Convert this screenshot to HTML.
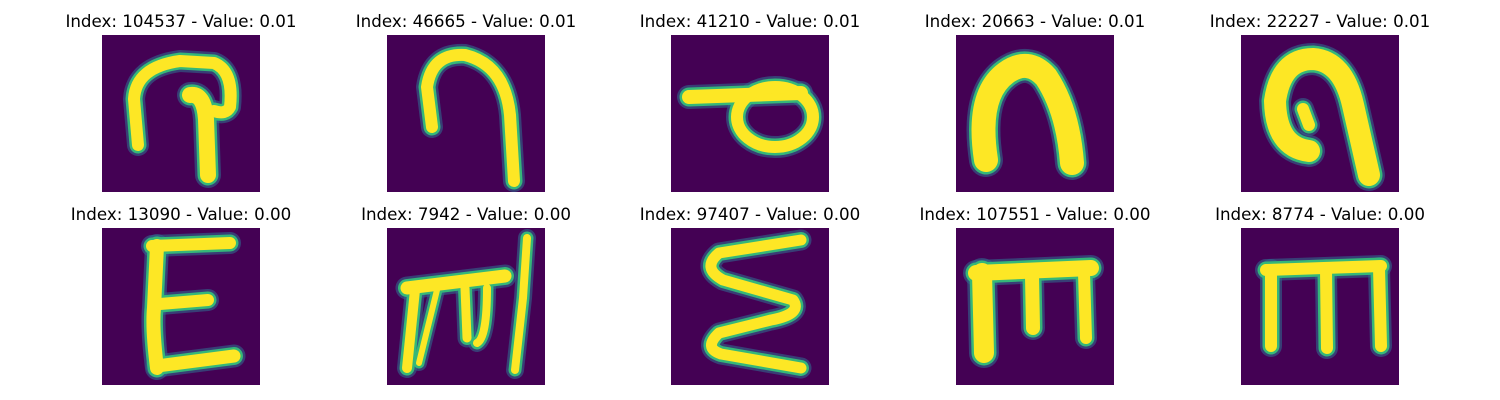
<!DOCTYPE html>
<html><head><meta charset="utf-8"><style>
body{margin:0;background:#fff;width:1500px;height:400px;overflow:hidden;position:relative;font-family:"DejaVu Sans","Liberation Sans",sans-serif;}
.t{position:absolute;font-size:16.7px;color:#000;text-align:center;width:300px;white-space:nowrap;}
svg.p{position:absolute;width:158px;height:157px;}
</style></head><body>
<script>
const indices=[104537,46665,41210,20663,22227,13090,7942,97407,107551,8774];
const values=["0.01","0.01","0.01","0.01","0.01","0.00","0.00","0.00","0.00","0.00"];
const colX=[102,387,671,956,1241];
const rowY=[35,228];
const strokes=[
 [["M36,110 L32,64 Q34,32 78,26 L112,28 Q132,36 128,72 Q124,80 112,76",12],["M88,60 Q102,58 104,84 L106,140",16]],
 [["M45,92 L40,52 Q45,18 78,20 Q118,30 123,80 L127,146",12]],
 [["M18,62 L130,58",14],["M104,82 m-38,0 a38,30 0 1,0 76,0 a38,30 0 1,0 -76,0",12]],
 [["M30,125 Q20,60 50,38 Q72,22 90,42 Q112,75 116,128",24]],
 [["M68,116 Q35,112 34,66 Q40,24 72,24 Q102,26 112,70 L128,140",22],["M68,90 L62,74",12]],
 [["M50,18 L128,15",12],["M55,18 L52,80 Q50,100 55,140",14],["M58,76 L106,72",12],["M55,138 L132,128",13]],
 [["M20,60 L118,48",13],["M140,10 L136,70 L128,142",8],["M28,62 L20,140",10],["M50,62 L32,135",6],["M78,60 L80,110",9],["M100,60 Q100,110 90,115",8]],
 [["M130,12 L48,25 Q30,40 52,52 L122,72 Q132,86 100,92 L48,105 Q32,120 50,126 L130,140",11]],
 [["M20,45 L135,40",16],["M26,45 L28,125",20],["M76,48 L77,100",14],["M128,45 L130,110",12]],
 [["M25,42 L140,38",12],["M30,42 L30,118",12],["M85,42 L86,120",12],["M138,40 L140,118",12]]
];
for(let i=0;i<10;i++){
 const x=colX[i%5], y=rowY[Math.floor(i/5)];
 const t=document.createElement('div');
 t.className='t';
 
 
 t.style.left=(x+79-150)+'px'; t.style.top=(y-24)+'px';
 t.textContent='Index: '+indices[i]+' - Value: '+values[i];
 document.body.appendChild(t);
 const s=document.createElementNS('http://www.w3.org/2000/svg','svg');
 s.setAttribute('class','p');
 
 
 s.setAttribute('viewBox','0 0 158 157');
 s.style.left=x+'px'; s.style.top=y+'px';
 let h='<rect width="158" height="157" fill="#440154"/>';
 for(const [d,w] of strokes[i]) h+=`<path d="${d}" fill="none" stroke="#31688e" stroke-width="${w+10}" stroke-linecap="round" stroke-linejoin="round" opacity="0.6"/>`;
 for(const [d,w] of strokes[i]) h+=`<path d="${d}" fill="none" stroke="#35b779" stroke-width="${w+5}" stroke-linecap="round" stroke-linejoin="round"/>`;
 for(const [d,w] of strokes[i]) h+=`<path d="${d}" fill="none" stroke="#fde725" stroke-width="${w}" stroke-linecap="round" stroke-linejoin="round"/>`;
 s.innerHTML=h;
 document.body.appendChild(s);
}
</script>
</body></html>
